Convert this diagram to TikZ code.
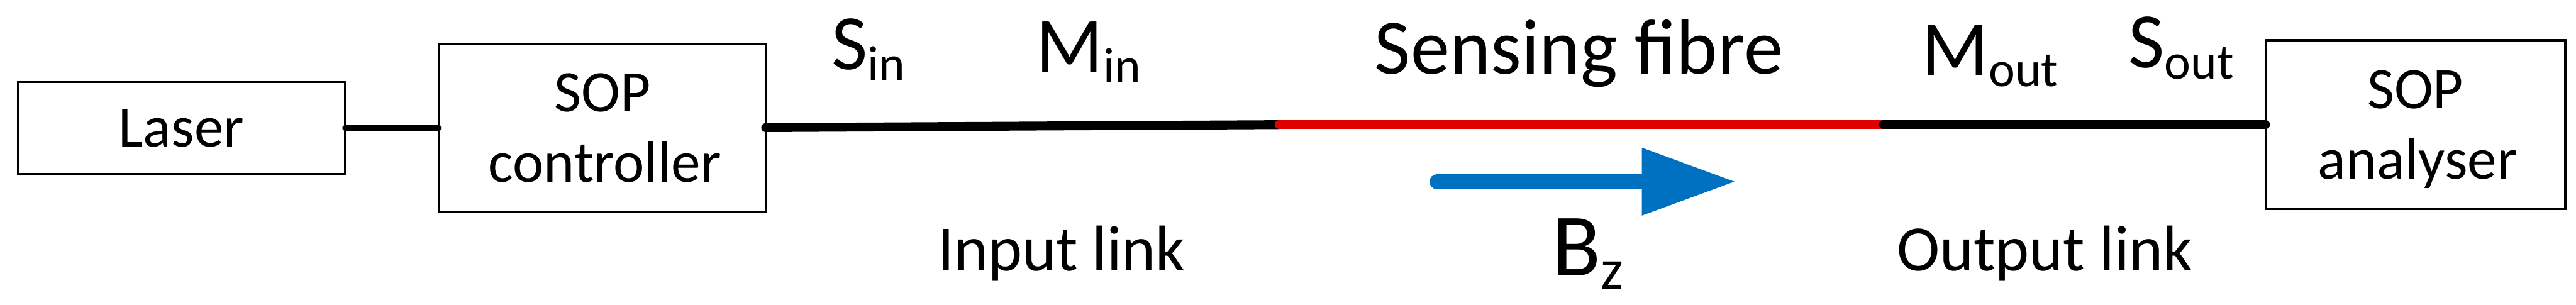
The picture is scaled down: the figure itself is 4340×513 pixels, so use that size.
\documentclass[tikz,border=0pt]{standalone}
\usepackage{fontspec}
\setmainfont{Carlito}
\usetikzlibrary{arrows.meta}
\newcommand{\fsz}[1]{\fontsize{#1}{#1}\selectfont}
\newcommand{\subtxt}[3]{{\fsz{#1}\raisebox{#2}{#3}}}
\definecolor{fibrered}{RGB}{224,0,0}
\definecolor{fieldblue}{RGB}{0,112,192}
\tikzset{
  boxnode/.style={draw=black,line width=1.8pt,inner sep=0pt,outer sep=0pt,align=center,font=\fontsize{49.5}{59.5}\selectfont,text depth=0pt},
  lbl/.style={inner sep=0pt,outer sep=0pt,anchor=base west},
  thinfibre/.style={line width=4.5pt,line cap=round,draw=black},
  thickfibre/.style={line width=7.5pt,line cap=round,draw=black},
  sensefibre/.style={line width=7.5pt,line cap=round,draw=fibrered},
  fieldarrow/.style={line width=12.5pt,line cap=round,draw=fieldblue,-{Triangle[length=79.5pt,width=53.5pt,fill=fieldblue]}}
}
\begin{document}
\begin{tikzpicture}[x=0.5pt,y=-0.5pt]
\useasboundingbox (0,0) rectangle (4340,513);
\node[boxnode,minimum width=275.5pt,minimum height=77.5pt] (laser) at (305.5,215.5) {Laser};
\node[boxnode,minimum width=275pt,minimum height=141.5pt] (ctrl) at (1015,215.5) {SOP\\\hspace*{4pt}controller};
\node[boxnode,minimum width=252.5pt,minimum height=142pt] (ana) at (4069.5,210) {SOP\\\hspace*{4pt}analyser};
\coordinate (j1) at (2155,210);
\coordinate (j2) at (3173,210);
\coordinate (bstart) at (2421,306);
\coordinate (btip) at (2925,306);
\draw[thinfibre] (laser.east) -- (ctrl.west);
\draw[thickfibre] (ctrl.east |- 0,215) -- (j1);
\draw[sensefibre] (j1) -- (j2);
\draw[thickfibre] (j2) -- (ana.west);
\draw[fieldarrow] (bstart) -- (btip);
\node[lbl] (sin) at (1401,117) {\fsz{66}S\subtxt{42}{-9.5pt}{in}};
\node[lbl] (min) at (1746,121) {\fsz{66}M\subtxt{42}{-9pt}{in}};
\node[lbl] (sense) at (2316,124) {\fsz{66}Sensing fibre};
\node[lbl] (mout) at (3238,127) {\fsz{66}M\subtxt{42}{-9.5pt}{out}};
\node[lbl] (sout) at (3586,114) {\fsz{66}S\subtxt{42}{-9.5pt}{out}};
\node[lbl] (inl) at (1580,456) {\fsz{54.5}Input link};
\node[lbl] (outl) at (3196,456) {\fsz{54.5}Output link};
\node[lbl] (bz) at (2615,465) {\fsz{75}B\subtxt{48}{-11pt}{z}};
\end{tikzpicture}
\end{document}
